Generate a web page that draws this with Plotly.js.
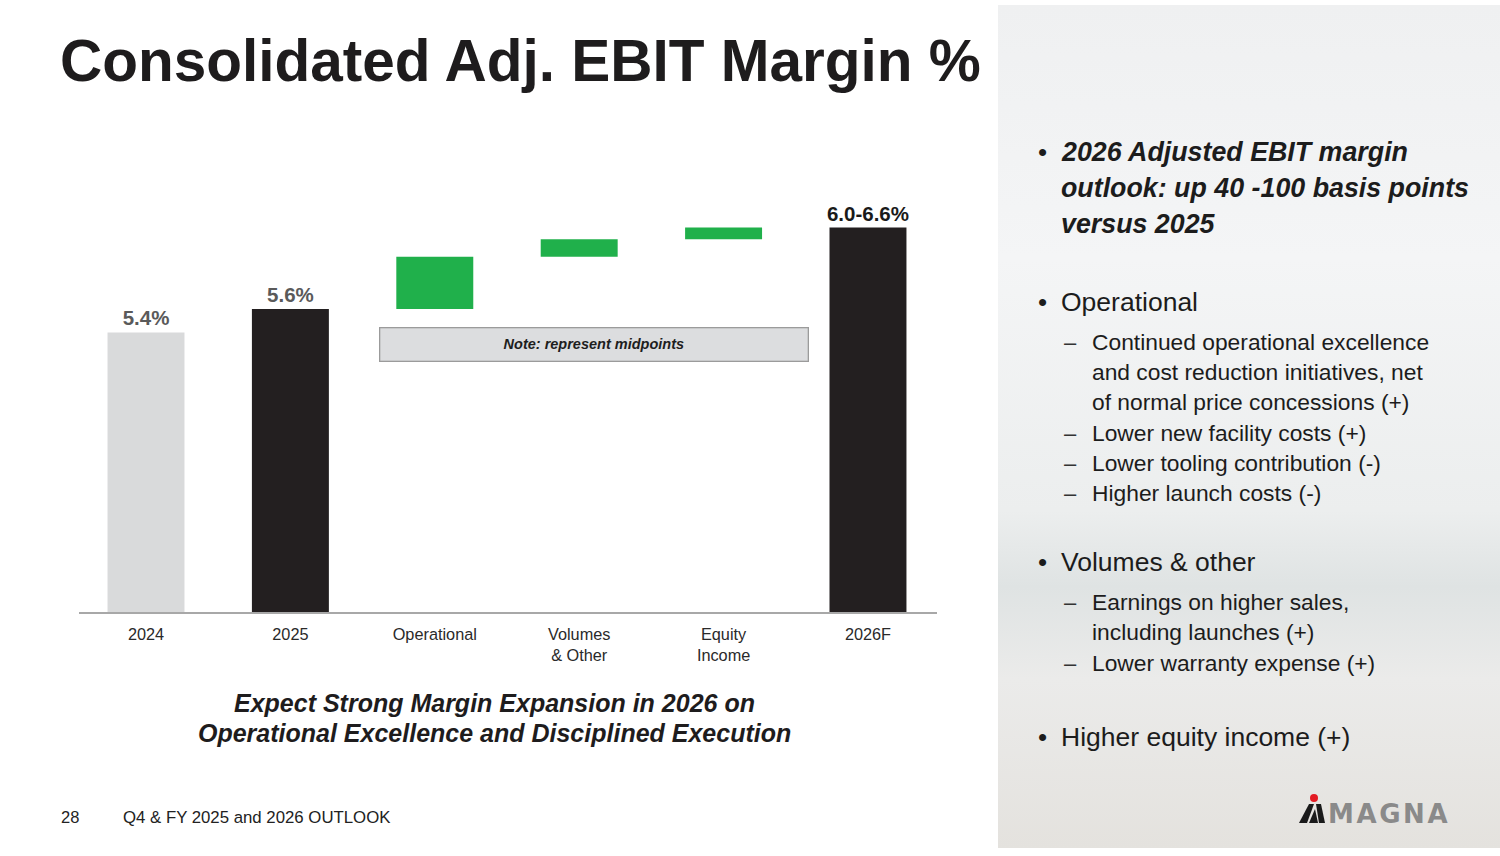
<!DOCTYPE html>
<html>
<head>
<meta charset="utf-8">
<script src="https://cdn.plot.ly/plotly-3.0.1.min.js"></script>
<style>html,body{margin:0;padding:0;background:#fff;}#chart{width:1500px;height:856px;}</style>
</head>
<body>
<div id="chart"></div>
<script>
// ---- data ----
var categories = ["2024", "2025", "Operational", "Volumes<br>& Other", "Equity<br>Income", "2026F"];
var values = [5.4, 5.6, 0.45, 0.15, 0.10, 6.3];
var kinds = ["total", "total", "delta", "delta", "delta", "total"];
var valueLabels = ["5.4%", "5.6%", "", "", "", "6.0-6.6%"];
var barColors = ["#d9dadb", "#231f20", "#20b04b", "#20b04b", "#20b04b", "#231f20"];
var labelColors = ["#5a5a5a", "#5a5a5a", "#000", "#000", "#000", "#1a1a1a"];

var titleText = "Consolidated Adj. EBIT Margin %";
var noteText = "<b><i>Note: represent midpoints</i></b>";
var subtitleLines = ["Expect Strong Margin Expansion in 2026 on", "Operational Excellence and Disciplined Execution"];
var footerPage = "28";
var footerText = "Q4 & FY 2025 and 2026 OUTLOOK";
var logoText = "M\u200AA\u200AG\u200AN\u200AA";

// right panel commentary: [type, text, y, showMarker]
var commentary = [
  ["head", "2026 Adjusted EBIT margin", 152, true],
  ["head", "outlook: up 40 -100 basis points", 188, false],
  ["head", "versus 2025", 224, false],
  ["bullet", "Operational", 302, true],
  ["sub", "Continued operational excellence", 342, true],
  ["sub", "and cost reduction initiatives, net", 372, false],
  ["sub", "of normal price concessions (+)", 402, false],
  ["sub", "Lower new facility costs (+)", 433, true],
  ["sub", "Lower tooling contribution (-)", 463, true],
  ["sub", "Higher launch costs (-)", 493, true],
  ["bullet", "Volumes & other", 562, true],
  ["sub", "Earnings on higher sales,", 602, true],
  ["sub", "including launches (+)", 632, false],
  ["sub", "Lower warranty expense (+)", 663, true],
  ["bullet", "Higher equity income (+)", 737, true]
];

// ---- derived bar geometry (waterfall bases) ----
var xs = categories.map(function (_, i) { return i; });
var bases = [], heights = [], running = 0;
for (var i = 0; i < values.length; i++) {
  if (kinds[i] === "total") { bases.push(0); heights.push(values[i]); running = values[i]; }
  else { bases.push(running); heights.push(values[i]); running += values[i]; }
}

// ---- layout helpers (pixel -> paper) ----
var W = 1500, H = 856, ML = 79, MR = 563, MT = 190, MB = 244;
var PW = W - ML - MR, PH = H - MT - MB;
function px(x) { return (x - ML) / PW; }
function py(y) { return (H - MB - y) / PH; }

var SANS = "Liberation Sans, Arial, Helvetica, sans-serif";
var annotations = [];
function addText(text, x, y, size, opts) {
  opts = opts || {};
  annotations.push({
    text: text, xref: "paper", yref: "paper", x: px(x), y: py(y),
    xanchor: opts.xanchor || "left", yanchor: opts.yanchor || "middle",
    showarrow: false, align: opts.align || "left",
    font: { family: opts.family || SANS, size: size, color: opts.color || "#1c1c1c", weight: opts.weight || "normal", style: opts.style || "normal" }
  });
}

// title
addText(titleText, 58, 60, 58.5, { weight: "bold", color: "#1e1c1d" });
// note box
annotations.push({
  text: noteText, xref: "paper", yref: "paper", x: px(594), y: py(344),
  xanchor: "center", yanchor: "middle", showarrow: false,
  width: 425, height: 30, bgcolor: "#dcdddf", bordercolor: "#9b9b9b", borderwidth: 1.3,
  font: { family: SANS, size: 14.5, color: "#1e1e1e" }
});
// subtitle
addText("<b><i>" + subtitleLines[0] + "</i></b>", 494, 703, 25, { xanchor: "center", align: "center", color: "#1e1c1d" });
addText("<b><i>" + subtitleLines[1] + "</i></b>", 494, 733, 25, { xanchor: "center", align: "center", color: "#1e1c1d" });
// footer
addText(footerPage, 59, 817, 16.5, { color: "#222" });
addText(footerText, 121, 817, 16.8, { color: "#222" });

// commentary
commentary.forEach(function (c) {
  var kind = c[0], t = c[1], y = c[2], mark = c[3];
  if (kind === "head") {
    if (mark) addText("•", 1036, y, 26, { color: "#1c1c1c" });
    addText("<b><i>" + t + "</i></b>", 1059, y, 26.8, { color: "#1c1c1c" });
  } else if (kind === "bullet") {
    if (mark) addText("•", 1036, y, 26, { color: "#1c1c1c" });
    addText(t, 1059, y, 26.5, { color: "#1c1c1c" });
  } else {
    if (mark) addText("–", 1062, y, 22, { color: "#333" });
    addText(t, 1090, y, 22.8, { color: "#1c1c1c" });
  }
});
// logo word
addText("<b>" + logoText + "</b>", 1326, 814, 26, { color: "#8a8a8a", family: "DejaVu Sans, Liberation Sans, sans-serif" });

// background gradient panel (svg data uri)
var svg = '<svg xmlns="http://www.w3.org/2000/svg" width="502" height="843" preserveAspectRatio="none">' +
  '<defs><linearGradient id="g" x1="0" y1="0" x2="0" y2="1">' +
  '<stop offset="0" stop-color="#eff0f1"/>' +
  '<stop offset="0.3" stop-color="#f4f5f6"/>' +
  '<stop offset="0.6" stop-color="#eceeee"/>' +
  '<stop offset="0.69" stop-color="#dfe3e3"/>' +
  '<stop offset="0.8" stop-color="#ebebea"/>' +
  '<stop offset="1" stop-color="#e4e2de"/>' +
  '</linearGradient></defs><rect width="502" height="843" fill="url(#g)"/></svg>';
var bgImg = "data:image/svg+xml;base64," + btoa(svg);

var shapes = [];
// logo icon (slanted stripes) + red dot
function poly(pts, color) {
  var d = "M" + pts.map(function (p) { return px(p[0]) + "," + py(p[1]); }).join(" L") + " Z";
  shapes.push({ type: "path", xref: "paper", yref: "paper", path: d, fillcolor: color, line: { width: 0 }, layer: "above" });
}
poly([[1299, 823], [1309, 804], [1314, 804], [1307, 823]], "#1a1a1a");
poly([[1309, 823], [1315, 809], [1318, 823]], "#1a1a1a");
poly([[1316, 804], [1321, 804], [1325, 823], [1319, 823]], "#1a1a1a");
shapes.push({ type: "circle", xref: "paper", yref: "paper", x0: px(1310), x1: px(1318), y0: py(802), y1: py(794), fillcolor: "#e31b23", line: { width: 0 } });

var trace = {
  type: "bar", x: xs, y: heights, base: bases, width: 0.533,
  marker: { color: barColors, line: { width: 0 } },
  text: valueLabels, textposition: "outside", cliponaxis: false,
  textfont: { family: "Liberation Sans Narrow, Liberation Sans, Arial, sans-serif", size: 20.5, color: labelColors, weight: "bold" },
  constraintext: "none", hoverinfo: "skip"
};

var layout = {
  width: W, height: H,
  margin: { l: ML, r: MR, t: MT, b: MB, pad: 0 },
  paper_bgcolor: "#ffffff", plot_bgcolor: "rgba(0,0,0,0)",
  showlegend: false,
  xaxis: {
    range: [-0.464, 5.478], tickmode: "array", tickvals: xs, ticktext: categories,
    showgrid: false, zeroline: false, showline: true, linecolor: "#a8a8a8", linewidth: 2,
    ticks: "outside", ticklen: 6, tickcolor: "rgba(0,0,0,0)",
    tickfont: { family: SANS, size: 16.3, color: "#2a2a2a" }, fixedrange: true
  },
  yaxis: { range: [3.0, 6.622], visible: false, fixedrange: true },
  images: [{ source: bgImg, xref: "paper", yref: "paper", x: px(998), y: py(5), sizex: px(1500) - px(998), sizey: py(5) - py(848), xanchor: "left", yanchor: "top", sizing: "stretch", layer: "below" }],
  shapes: shapes,
  annotations: annotations
};

Plotly.newPlot("chart", [trace], layout, { displayModeBar: false, staticPlot: true });
</script>
</body>
</html>
